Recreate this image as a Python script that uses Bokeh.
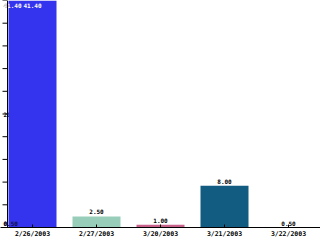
from bokeh.plotting import figure
from bokeh.models import Range1d, FixedTicker, ColumnDataSource
from bokeh.core.properties import value
from bokeh.embed import file_html
from bokeh.resources import INLINE
import numpy as np

categories = ["2/26/2003", "2/27/2003", "3/20/2003", "3/21/2003", "3/22/2003"]
values = [41.40, 2.50, 1.00, 8.00, 0.50]
colors = ["#3434EE", "#98CDBA", "#C9628A", "#115C80", "#E8B84A"]

y_min = min(values)
y_max = max(values)
FONT = value("DejaVu Sans Mono")
FS = "6px"

W, H = 320, 240
slot = 64                      # pixels per category
n = len(categories)
px = 1.0 / slot                # one pixel in x data units
axis_x = 7 * px                # y axis line position

p = figure(width=W, height=H, output_backend="svg", toolbar_location=None,
           x_range=Range1d(0, n), y_range=Range1d(y_min, y_max),
           min_border=0, y_axis_location=None)
p.outline_line_color = None
p.xgrid.visible = False
p.ygrid.visible = False
p.background_fill_color = "white"

xs = [i + 0.5 for i in range(n)]
y_mid = (y_min + y_max) / 2
yticks = list(np.linspace(y_min, y_max, 11))

# y axis labels (min / mid / max): black, beneath the bars
ysrc = ColumnDataSource(dict(x=[axis_x - 4 * px] * 3, y=[y_max, y_mid, y_min],
                             t=["%.2f" % y_max, "%.2f" % y_mid, "%.2f" % y_min],
                             b=["top", "middle", "bottom"], o=[2, 0, -2]))
p.text(x="x", y="y", text="t", text_baseline="b", y_offset="o",
       text_align="left", text_color="black", text_font=FONT, text_font_size=FS,
       text_font_style="bold", source=ysrc)

src = ColumnDataSource(dict(x=xs, top=values, color=colors))
p.vbar(x="x", top="top", bottom=y_min, width=0.75, fill_color="color",
       line_color=None, source=src)

# top / bottom axis labels repeated over the bar
osrc = ColumnDataSource(dict(x=[axis_x - 4 * px] * 2, y=[y_max, y_min],
                             t=["%.2f" % y_max, "%.2f" % y_min],
                             b=["top", "bottom"], o=[2, -2], c=["white", "#101040"]))
p.text(x="x", y="y", text="t", text_baseline="b", y_offset="o",
       text_align="left", text_color="c", text_font=FONT, text_font_size=FS,
       text_font_style="bold", source=osrc)

# y axis line and ticks
p.segment(x0=[axis_x], y0=[y_min], x1=[axis_x], y1=[y_max], line_color="black", line_width=1)
p.segment(x0=[axis_x - 5 * px] * len(yticks), y0=yticks, x1=[axis_x] * len(yticks),
          y1=yticks, line_color="black", line_width=1)

# value labels
lab_y, lab_col, lab_base, lab_off = [], [], [], []
for v in values:
    if v >= y_max:
        lab_y.append(y_max); lab_col.append("white"); lab_base.append("top"); lab_off.append(2)
    else:
        lab_y.append(v); lab_col.append("black"); lab_base.append("bottom"); lab_off.append(-2)
lsrc = ColumnDataSource(dict(x=xs, y=lab_y, t=["%.2f" % v for v in values],
                             c=lab_col, b=lab_base, o=lab_off))
p.text(x="x", y="y", text="t", text_color="c", text_baseline="b", y_offset="o",
       text_align="center", text_font=FONT, text_font_size=FS,
       text_font_style="bold", source=lsrc)

# x axis
xa = p.xaxis[0]
xa.ticker = FixedTicker(ticks=xs)
xa.major_label_overrides = {x: c for x, c in zip(xs, categories)}
xa.major_tick_in = 3
xa.major_tick_out = 0
xa.minor_tick_line_color = None
xa.major_label_standoff = 2
xa.major_label_text_font = "DejaVu Sans Mono"
xa.major_label_text_font_size = "6.5px"
xa.major_label_text_font_style = "bold"
xa.major_label_text_color = "black"
xa.axis_line_color = "black"

open("out.html", "w").write(file_html(p, INLINE))
